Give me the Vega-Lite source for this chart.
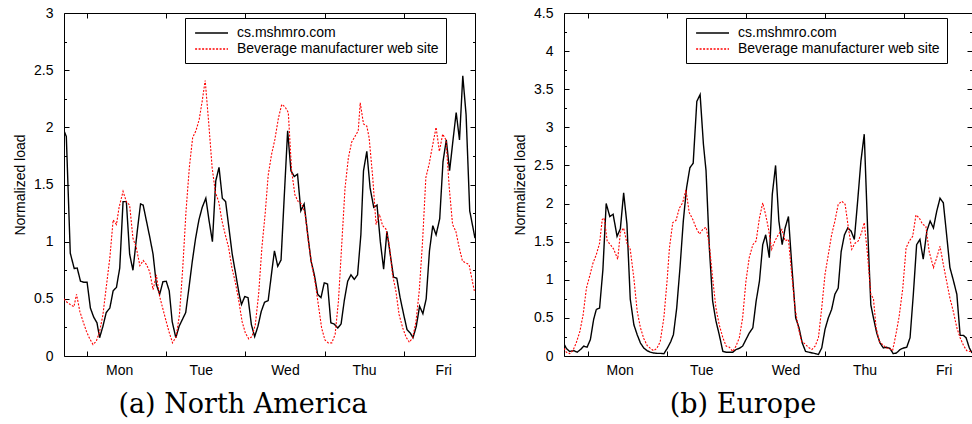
{
  "$schema": "https://vega.github.io/schema/vega-lite/v6.json",
  "background": "white",
  "padding": {"left": 13, "top": 5, "right": 0, "bottom": 0},
  "config": {
    "font": "Liberation Sans",
    "view": {"stroke": "black", "strokeWidth": 1},
    "axis": {"domain": false, "grid": false, "tickColor": "black", "tickWidth": 1, "labelFont": "Liberation Sans", "labelFontSize": 14, "labelColor": "black", "titleFont": "Liberation Sans", "titleFontSize": 14, "titleFontWeight": "normal", "titleColor": "black", "labelFlush": false, "labelOverlap": false},
    "legend": {"strokeColor": "black", "fillColor": "white", "padding": 7, "symbolType": "M-0.7,0H4", "symbolSize": 196, "symbolStrokeWidth": 1.4, "symbolFillColor": "transparent", "labelFont": "Liberation Sans", "labelFontSize": 14, "labelColor": "black", "labelOffset": 29, "rowPadding": 1, "cornerRadius": 0, "labelLimit": 400}
  },
  "datasets": {
    "naCs": [{"h":-7,"v":1.97},{"h":-6.3,"v":1.92},{"h":-5.1,"v":0.9},{"h":-3.9,"v":0.765},{"h":-3,"v":0.77},{"h":-2,"v":0.654},{"h":-1,"v":0.645},{"h":0,"v":0.645},{"h":1,"v":0.42},{"h":2,"v":0.34},{"h":3,"v":0.29},{"h":3.8,"v":0.16},{"h":4.8,"v":0.26},{"h":5.8,"v":0.38},{"h":6.9,"v":0.42},{"h":7.9,"v":0.57},{"h":8.9,"v":0.6},{"h":9.9,"v":0.77},{"h":10.9,"v":1.35},{"h":11.9,"v":1.35},{"h":12.9,"v":0.89},{"h":13.9,"v":0.75},{"h":15.2,"v":1.09},{"h":16.2,"v":1.33},{"h":17,"v":1.32},{"h":18,"v":1.18},{"h":19,"v":1.04},{"h":20,"v":0.89},{"h":21,"v":0.625},{"h":22,"v":0.54},{"h":23,"v":0.65},{"h":24,"v":0.654},{"h":24.9,"v":0.57},{"h":25.8,"v":0.3},{"h":26.9,"v":0.16},{"h":27.9,"v":0.26},{"h":28.9,"v":0.32},{"h":29.9,"v":0.38},{"h":30.9,"v":0.6},{"h":31.9,"v":0.83},{"h":32.9,"v":1.03},{"h":33.9,"v":1.19},{"h":34.9,"v":1.3},{"h":36,"v":1.38},{"h":37,"v":1.18},{"h":38,"v":1},{"h":39,"v":1.53},{"h":40,"v":1.65},{"h":41,"v":1.38},{"h":42,"v":1.35},{"h":43,"v":1.12},{"h":44,"v":0.89},{"h":45.1,"v":0.71},{"h":46.1,"v":0.54},{"h":46.8,"v":0.45},{"h":47.8,"v":0.52},{"h":48.8,"v":0.51},{"h":49.8,"v":0.275},{"h":50.8,"v":0.17},{"h":51.8,"v":0.26},{"h":52.8,"v":0.39},{"h":53.8,"v":0.47},{"h":54.9,"v":0.485},{"h":56,"v":0.74},{"h":56.8,"v":0.92},{"h":57.8,"v":0.785},{"h":58.8,"v":0.84},{"h":59.8,"v":1.41},{"h":60.8,"v":1.97},{"h":61.8,"v":1.62},{"h":62.8,"v":1.57},{"h":63.8,"v":1.59},{"h":64.8,"v":1.27},{"h":65.8,"v":1.33},{"h":66.9,"v":1.06},{"h":67.9,"v":0.83},{"h":68.9,"v":0.71},{"h":69.9,"v":0.54},{"h":70.9,"v":0.51},{"h":71.9,"v":0.64},{"h":72.9,"v":0.63},{"h":73.9,"v":0.29},{"h":74.9,"v":0.28},{"h":76,"v":0.245},{"h":77,"v":0.28},{"h":78,"v":0.49},{"h":79,"v":0.654},{"h":80,"v":0.71},{"h":81,"v":0.67},{"h":82,"v":0.71},{"h":83,"v":1.06},{"h":83.8,"v":1.62},{"h":84.8,"v":1.79},{"h":85.8,"v":1.47},{"h":86.9,"v":1.3},{"h":87.9,"v":1.32},{"h":88.9,"v":1},{"h":89.9,"v":0.76},{"h":90.9,"v":1.09},{"h":91.9,"v":0.89},{"h":92.9,"v":0.69},{"h":93.9,"v":0.68},{"h":94.9,"v":0.51},{"h":96,"v":0.36},{"h":97,"v":0.23},{"h":98,"v":0.2},{"h":98.8,"v":0.16},{"h":99.8,"v":0.26},{"h":100.8,"v":0.435},{"h":101.8,"v":0.37},{"h":102.8,"v":0.5},{"h":103.8,"v":0.92},{"h":104.8,"v":1.14},{"h":105.8,"v":1.06},{"h":106.9,"v":1.2},{"h":107.9,"v":1.7},{"h":108.9,"v":1.89},{"h":109.9,"v":1.62},{"h":110.9,"v":1.88},{"h":111.9,"v":2.13},{"h":112.9,"v":1.89},{"h":113.9,"v":2.45},{"h":114.9,"v":2.11},{"h":116,"v":1.27},{"h":117,"v":1.12},{"h":117.6,"v":1.03}],
    "naBev": [{"h":-7,"v":0.5},{"h":-6.1,"v":0.47},{"h":-5.1,"v":0.45},{"h":-4,"v":0.43},{"h":-3.2,"v":0.54},{"h":-2.2,"v":0.39},{"h":-1.2,"v":0.3},{"h":-0.2,"v":0.215},{"h":0.8,"v":0.15},{"h":1.8,"v":0.1},{"h":2.8,"v":0.13},{"h":3.8,"v":0.215},{"h":4.8,"v":0.36},{"h":5.8,"v":0.6},{"h":6.9,"v":0.86},{"h":7.9,"v":1.19},{"h":8.9,"v":1.15},{"h":9.7,"v":1.3},{"h":10.9,"v":1.44},{"h":11.9,"v":1.35},{"h":12.9,"v":1.32},{"h":13.9,"v":1.03},{"h":14.9,"v":0.95},{"h":16,"v":0.79},{"h":17,"v":0.835},{"h":18,"v":0.8},{"h":19,"v":0.735},{"h":20,"v":0.58},{"h":21,"v":0.71},{"h":22,"v":0.52},{"h":23,"v":0.41},{"h":24,"v":0.3},{"h":24.8,"v":0.215},{"h":25.9,"v":0.115},{"h":27,"v":0.17},{"h":28,"v":0.36},{"h":29,"v":0.77},{"h":30,"v":1.27},{"h":31,"v":1.65},{"h":32,"v":1.91},{"h":33,"v":1.97},{"h":34,"v":2.07},{"h":34.9,"v":2.23},{"h":35.8,"v":2.41},{"h":36.9,"v":2.03},{"h":37.9,"v":1.65},{"h":38.9,"v":1.43},{"h":39.9,"v":1.35},{"h":40.9,"v":1.18},{"h":41.9,"v":1.06},{"h":42.9,"v":0.95},{"h":43.9,"v":0.77},{"h":44.9,"v":0.65},{"h":46,"v":0.48},{"h":47,"v":0.3},{"h":48,"v":0.2},{"h":49,"v":0.15},{"h":50,"v":0.17},{"h":51,"v":0.275},{"h":52,"v":0.54},{"h":53,"v":0.95},{"h":54,"v":1.25},{"h":54.9,"v":1.58},{"h":55.9,"v":1.76},{"h":56.9,"v":1.89},{"h":58,"v":2.08},{"h":59,"v":2.2},{"h":60,"v":2.18},{"h":61,"v":2.13},{"h":62,"v":1.62},{"h":63,"v":1.41},{"h":64,"v":1.35},{"h":65.1,"v":1.33},{"h":66.1,"v":1.24},{"h":67.1,"v":1},{"h":68.1,"v":0.8},{"h":69.1,"v":0.65},{"h":70.1,"v":0.45},{"h":71.1,"v":0.245},{"h":72.1,"v":0.14},{"h":73.1,"v":0.115},{"h":74.2,"v":0.115},{"h":75.2,"v":0.19},{"h":76.2,"v":0.48},{"h":77.2,"v":0.975},{"h":78.2,"v":1.47},{"h":79.2,"v":1.73},{"h":80.2,"v":1.87},{"h":81.2,"v":1.92},{"h":82.2,"v":1.97},{"h":82.8,"v":2.215},{"h":83.8,"v":2.03},{"h":84.8,"v":2.01},{"h":85.5,"v":1.91},{"h":86.6,"v":1.56},{"h":87.6,"v":1.15},{"h":88.6,"v":1.24},{"h":89.6,"v":1.14},{"h":90.6,"v":1.11},{"h":91.6,"v":0.975},{"h":92.6,"v":0.71},{"h":93.6,"v":0.57},{"h":94.6,"v":0.36},{"h":95.7,"v":0.245},{"h":96.7,"v":0.165},{"h":97.7,"v":0.12},{"h":98.7,"v":0.16},{"h":99.7,"v":0.3},{"h":100.7,"v":0.57},{"h":101.7,"v":1},{"h":102.7,"v":1.56},{"h":103.7,"v":1.68},{"h":104.8,"v":1.85},{"h":105.8,"v":2},{"h":106.8,"v":1.79},{"h":107.8,"v":1.94},{"h":108.8,"v":1.89},{"h":109.8,"v":1.47},{"h":110.8,"v":1.15},{"h":111.8,"v":1.09},{"h":112.8,"v":0.95},{"h":113.8,"v":0.83},{"h":114.8,"v":0.815},{"h":115.8,"v":0.8},{"h":116.9,"v":0.64},{"h":117.4,"v":0.57}],
    "euCs": [{"h":-7.2,"v":0.16},{"h":-6.5,"v":0.1},{"h":-5.5,"v":0.06},{"h":-4.2,"v":0.07},{"h":-3.2,"v":0.05},{"h":-2.2,"v":0.085},{"h":-1.2,"v":0.13},{"h":-0.2,"v":0.115},{"h":0.8,"v":0.215},{"h":1.8,"v":0.48},{"h":2.6,"v":0.61},{"h":3.6,"v":0.63},{"h":4.6,"v":1.13},{"h":5.6,"v":2},{"h":6.7,"v":1.83},{"h":7.7,"v":1.86},{"h":8.9,"v":1.57},{"h":9.9,"v":1.67},{"h":10.9,"v":2.14},{"h":11.9,"v":1.73},{"h":12.9,"v":0.75},{"h":14,"v":0.41},{"h":15,"v":0.28},{"h":16,"v":0.17},{"h":17,"v":0.105},{"h":18,"v":0.07},{"h":19,"v":0.05},{"h":20,"v":0.04},{"h":21,"v":0.035},{"h":22,"v":0.035},{"h":23.1,"v":0.03},{"h":24.2,"v":0.105},{"h":25.2,"v":0.19},{"h":26,"v":0.28},{"h":27,"v":0.63},{"h":28,"v":1.16},{"h":29,"v":1.77},{"h":30,"v":2.21},{"h":31,"v":2.47},{"h":32,"v":2.53},{"h":33.1,"v":3.34},{"h":34.1,"v":3.43},{"h":35.1,"v":2.78},{"h":35.9,"v":2.43},{"h":36.9,"v":1.42},{"h":37.9,"v":0.72},{"h":38.9,"v":0.46},{"h":39.9,"v":0.28},{"h":41,"v":0.06},{"h":42,"v":0.05},{"h":43,"v":0.05},{"h":44,"v":0.05},{"h":45,"v":0.085},{"h":46,"v":0.1},{"h":47,"v":0.13},{"h":48,"v":0.215},{"h":49,"v":0.3},{"h":50.1,"v":0.37},{"h":51.1,"v":0.72},{"h":52.1,"v":0.98},{"h":53.1,"v":1.46},{"h":54,"v":1.59},{"h":55.1,"v":1.29},{"h":56,"v":2.12},{"h":57,"v":2.5},{"h":58,"v":1.77},{"h":59,"v":1.46},{"h":59.9,"v":1.68},{"h":60.9,"v":1.83},{"h":61.9,"v":1.2},{"h":63.1,"v":0.5},{"h":64.1,"v":0.37},{"h":65.1,"v":0.17},{"h":66.1,"v":0.06},{"h":67.1,"v":0.05},{"h":68.1,"v":0.04},{"h":69.2,"v":0.03},{"h":70,"v":0.02},{"h":71,"v":0.105},{"h":72,"v":0.35},{"h":73,"v":0.5},{"h":74,"v":0.61},{"h":75,"v":0.81},{"h":76,"v":0.89},{"h":76.9,"v":1.37},{"h":77.9,"v":1.59},{"h":78.9,"v":1.68},{"h":79.9,"v":1.64},{"h":80.9,"v":1.53},{"h":81.9,"v":2.03},{"h":82.9,"v":2.56},{"h":83.9,"v":2.91},{"h":84.9,"v":1.7},{"h":85.9,"v":0.67},{"h":86.7,"v":0.5},{"h":87.7,"v":0.3},{"h":88.7,"v":0.17},{"h":89.7,"v":0.105},{"h":90.7,"v":0.115},{"h":91.7,"v":0.1},{"h":92.7,"v":0.03},{"h":93.7,"v":0.04},{"h":94.8,"v":0.085},{"h":95.8,"v":0.105},{"h":96.8,"v":0.115},{"h":97.8,"v":0.24},{"h":98.8,"v":0.81},{"h":99.8,"v":1.46},{"h":100.8,"v":1.53},{"h":101.8,"v":1.27},{"h":102.9,"v":1.64},{"h":103.9,"v":1.77},{"h":104.9,"v":1.68},{"h":105.9,"v":1.9},{"h":106.9,"v":2.07},{"h":107.9,"v":2.01},{"h":108.9,"v":1.59},{"h":109.9,"v":1.16},{"h":110.9,"v":1},{"h":112,"v":0.81},{"h":113,"v":0.27},{"h":114,"v":0.27},{"h":114.8,"v":0.24},{"h":115.8,"v":0.105},{"h":116.6,"v":0.04}],
    "euBev": [{"h":-7.2,"v":0.1},{"h":-6.5,"v":0.05},{"h":-5.5,"v":0.03},{"h":-4.5,"v":0.07},{"h":-3.5,"v":0.17},{"h":-2.4,"v":0.32},{"h":-1.4,"v":0.54},{"h":-0.4,"v":0.89},{"h":0.6,"v":1.05},{"h":1.6,"v":1.22},{"h":2.6,"v":1.33},{"h":3.6,"v":1.48},{"h":4.4,"v":1.79},{"h":5,"v":1.81},{"h":5.9,"v":1.51},{"h":6.9,"v":1.46},{"h":7.9,"v":1.4},{"h":9.1,"v":1.27},{"h":9.9,"v":1.62},{"h":10.9,"v":1.68},{"h":11.9,"v":1.48},{"h":12.9,"v":1.4},{"h":14,"v":1.02},{"h":15,"v":0.59},{"h":16,"v":0.37},{"h":17,"v":0.23},{"h":18,"v":0.14},{"h":19,"v":0.1},{"h":20,"v":0.07},{"h":21,"v":0.1},{"h":22,"v":0.19},{"h":23.1,"v":0.5},{"h":24.1,"v":1},{"h":24.8,"v":1.42},{"h":25.8,"v":1.75},{"h":26.8,"v":1.78},{"h":27.8,"v":1.94},{"h":28.8,"v":2.01},{"h":29.8,"v":2.18},{"h":30.8,"v":1.88},{"h":31.9,"v":1.79},{"h":32.9,"v":1.68},{"h":33.9,"v":1.6},{"h":34.9,"v":1.66},{"h":35.9,"v":1.69},{"h":36.9,"v":1.46},{"h":37.9,"v":1.02},{"h":38.9,"v":0.63},{"h":39.9,"v":0.41},{"h":41,"v":0.24},{"h":42,"v":0.13},{"h":43,"v":0.115},{"h":44,"v":0.06},{"h":45,"v":0.13},{"h":46,"v":0.24},{"h":47,"v":0.5},{"h":48,"v":0.98},{"h":49,"v":1.29},{"h":50.1,"v":1.46},{"h":51.1,"v":1.51},{"h":52.1,"v":1.81},{"h":53.1,"v":2.01},{"h":54,"v":1.85},{"h":54.8,"v":1.68},{"h":55.8,"v":1.4},{"h":56.8,"v":1.51},{"h":57.8,"v":1.59},{"h":58.9,"v":1.66},{"h":59.9,"v":1.51},{"h":60.9,"v":1.53},{"h":61.9,"v":1.07},{"h":62.9,"v":0.63},{"h":63.9,"v":0.37},{"h":64.9,"v":0.19},{"h":65.9,"v":0.16},{"h":66.9,"v":0.115},{"h":68,"v":0.085},{"h":69,"v":0.13},{"h":70,"v":0.24},{"h":71,"v":0.63},{"h":72,"v":1.07},{"h":73,"v":1.33},{"h":74,"v":1.59},{"h":75,"v":1.77},{"h":76,"v":1.99},{"h":77.1,"v":2.03},{"h":78.1,"v":1.99},{"h":79.1,"v":1.68},{"h":80.1,"v":1.4},{"h":81.1,"v":1.48},{"h":82.1,"v":1.51},{"h":83.1,"v":1.62},{"h":83.9,"v":1.75},{"h":84.9,"v":1.33},{"h":85.9,"v":0.81},{"h":86.7,"v":0.75},{"h":87.5,"v":0.37},{"h":88.5,"v":0.19},{"h":89.5,"v":0.15},{"h":90.5,"v":0.105},{"h":91.5,"v":0.1},{"h":92.5,"v":0.07},{"h":93.5,"v":0.28},{"h":94.5,"v":0.52},{"h":95.6,"v":0.89},{"h":96.6,"v":1.42},{"h":97.6,"v":1.51},{"h":98.6,"v":1.57},{"h":99.6,"v":1.85},{"h":100.6,"v":1.81},{"h":101.6,"v":1.73},{"h":102.6,"v":1.7},{"h":103.6,"v":1.37},{"h":104.9,"v":1.16},{"h":105.9,"v":1.29},{"h":106.9,"v":1.44},{"h":107.9,"v":1.2},{"h":108.9,"v":0.98},{"h":109.9,"v":0.76},{"h":110.9,"v":0.59},{"h":112,"v":0.37},{"h":113,"v":0.24},{"h":114,"v":0.14},{"h":115,"v":0.07},{"h":116,"v":0.06},{"h":116.6,"v":0.06}]
  },
  "spacing": 37,
  "resolve": {"scale": {"x": "independent", "y": "independent", "color": "independent", "strokeDash": "independent"}, "legend": {"color": "independent", "strokeDash": "independent"}},
  "hconcat": [
    {
      "width": 411, "height": 343,
      "resolve": {"axis": {"x": "independent", "y": "independent"}},
      "layer": [
        {
          "data": {"name": "naCs"},
          "mark": {"type": "line", "clip": true, "strokeWidth": 1.4},
          "encoding": {
            "x": {"field": "h", "type": "quantitative", "scale": {"domain": [-7, 117.6], "nice": false, "zero": false},
              "axis": {"orient": "bottom", "values": [0, 24, 48, 72, 96], "labelExpr": "['Mon','Tue','Wed','Thu','Fri'][round(datum.value/24)]", "tickSize": -5, "labelPadding": 12.6,
                "labelOffset": {"condition": [{"test": "datum.value == 0", "value": 32}, {"test": "datum.value == 24", "value": 34.5}], "value": 39.5},
                "title": "(a) North America", "titleFont": "DejaVu Serif", "titleFontSize": 27, "titleX": 178.5, "titleY": 56, "titleBaseline": "alphabetic", "titleAlign": "center"}},
            "y": {"field": "v", "type": "quantitative", "scale": {"domain": [0, 3], "nice": false},
              "axis": {"orient": "left", "values": [0, 0.25, 0.5, 0.75, 1, 1.25, 1.5, 1.75, 2, 2.25, 2.5, 2.75, 3], "labelExpr": "datum.value % 0.5 == 0 ? format(datum.value, '~g') : ''",
                "tickSize": {"condition": {"test": "datum.value % 0.5 != 0", "value": -2.5}, "value": -5}, "labelPadding": 16, "title": "Normalized load", "titlePadding": 6}},
            "color": {"datum": "cs.mshmro.com", "type": "nominal", "scale": {"domain": ["cs.mshmro.com", "Beverage manufacturer web site"], "range": ["black", "#ff0000"]}, "legend": {"orient": "none", "legendX": 121, "legendY": 5, "title": null}},
            "strokeDash": {"datum": "cs.mshmro.com", "type": "nominal", "scale": {"domain": ["cs.mshmro.com", "Beverage manufacturer web site"], "range": [[1, 0], [2, 1.5]]}, "legend": {"orient": "none", "legendX": 121, "legendY": 5, "title": null}}
          }
        },
        {
          "data": {"name": "naBev"},
          "mark": {"type": "line", "clip": true, "strokeWidth": 1.1},
          "encoding": {
            "x": {"field": "h", "type": "quantitative", "scale": {"domain": [-7, 117.6], "nice": false, "zero": false},
              "axis": {"orient": "top", "values": [0, 24, 48, 72, 96], "labels": false, "tickSize": -5, "title": null}},
            "y": {"field": "v", "type": "quantitative", "scale": {"domain": [0, 3], "nice": false},
              "axis": {"orient": "right", "values": [0, 0.25, 0.5, 0.75, 1, 1.25, 1.5, 1.75, 2, 2.25, 2.5, 2.75, 3], "labels": false,
                "tickSize": {"condition": {"test": "datum.value % 0.5 != 0", "value": -2.5}, "value": -5}, "title": null}},
            "color": {"datum": "Beverage manufacturer web site", "type": "nominal"},
            "strokeDash": {"datum": "Beverage manufacturer web site", "type": "nominal"}
          }
        }
      ]
    },
    {
      "width": 408, "height": 343,
      "resolve": {"axis": {"x": "independent", "y": "independent"}},
      "layer": [
        {
          "data": {"name": "euCs"},
          "mark": {"type": "line", "clip": true, "strokeWidth": 1.4},
          "encoding": {
            "x": {"field": "h", "type": "quantitative", "scale": {"domain": [-7.2, 116.6], "nice": false, "zero": false},
              "axis": {"orient": "bottom", "values": [0, 24, 48, 72, 96], "labelExpr": "['Mon','Tue','Wed','Thu','Fri'][round(datum.value/24)]", "tickSize": -5, "labelPadding": 12.6,
                "labelOffset": {"condition": [{"test": "datum.value == 0", "value": 32}, {"test": "datum.value == 24", "value": 34.5}], "value": 39.5},
                "title": "(b) Europe", "titleFont": "DejaVu Serif", "titleFontSize": 27, "titleX": 178.5, "titleY": 56, "titleBaseline": "alphabetic", "titleAlign": "center"}},
            "y": {"field": "v", "type": "quantitative", "scale": {"domain": [0, 4.5], "nice": false},
              "axis": {"orient": "left", "values": [0, 0.25, 0.5, 0.75, 1, 1.25, 1.5, 1.75, 2, 2.25, 2.5, 2.75, 3, 3.25, 3.5, 3.75, 4, 4.25, 4.5], "labelExpr": "datum.value % 0.5 == 0 ? format(datum.value, '~g') : ''",
                "tickSize": {"condition": {"test": "datum.value % 0.5 != 0", "value": -2.5}, "value": -5}, "labelPadding": 16, "title": "Normalized load", "titlePadding": 6}},
            "color": {"datum": "cs.mshmro.com", "type": "nominal", "scale": {"domain": ["cs.mshmro.com", "Beverage manufacturer web site"], "range": ["black", "#ff0000"]}, "legend": {"orient": "none", "legendX": 122, "legendY": 5, "title": null}},
            "strokeDash": {"datum": "cs.mshmro.com", "type": "nominal", "scale": {"domain": ["cs.mshmro.com", "Beverage manufacturer web site"], "range": [[1, 0], [2, 1.5]]}, "legend": {"orient": "none", "legendX": 122, "legendY": 5, "title": null}}
          }
        },
        {
          "data": {"name": "euBev"},
          "mark": {"type": "line", "clip": true, "strokeWidth": 1.1},
          "encoding": {
            "x": {"field": "h", "type": "quantitative", "scale": {"domain": [-7.2, 116.6], "nice": false, "zero": false},
              "axis": {"orient": "top", "values": [0, 24, 48, 72, 96], "labels": false, "tickSize": -5, "title": null}},
            "y": {"field": "v", "type": "quantitative", "scale": {"domain": [0, 4.5], "nice": false},
              "axis": {"orient": "right", "values": [0, 0.25, 0.5, 0.75, 1, 1.25, 1.5, 1.75, 2, 2.25, 2.5, 2.75, 3, 3.25, 3.5, 3.75, 4, 4.25, 4.5], "labels": false,
                "tickSize": {"condition": {"test": "datum.value % 0.5 != 0", "value": -2.5}, "value": -5}, "title": null}},
            "color": {"datum": "Beverage manufacturer web site", "type": "nominal"},
            "strokeDash": {"datum": "Beverage manufacturer web site", "type": "nominal"}
          }
        }
      ]
    }
  ]
}
